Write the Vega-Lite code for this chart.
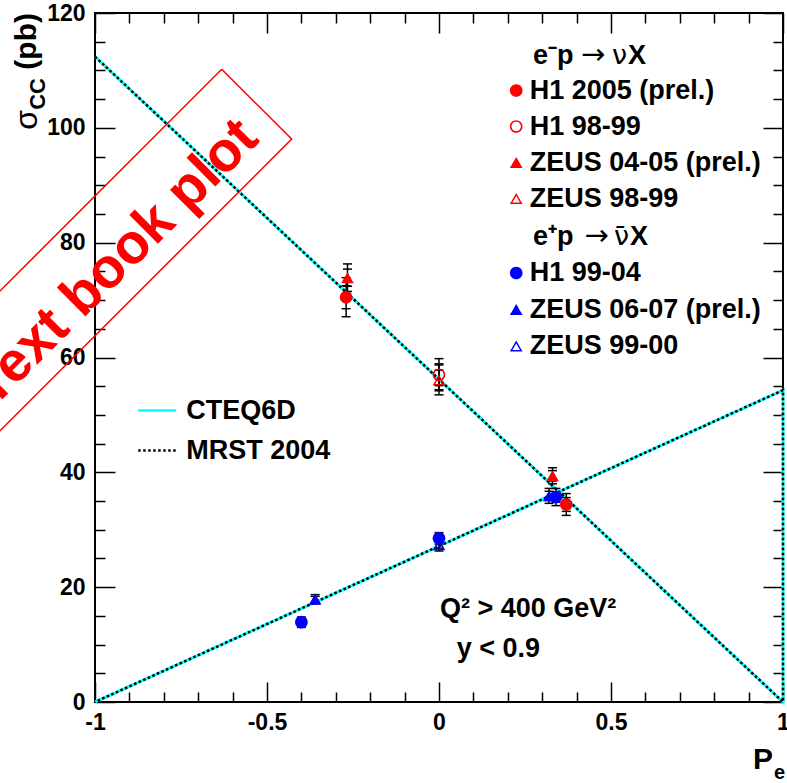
{
  "$schema": "https://vega.github.io/schema/vega-lite/v6.json",
  "autosize": "none",
  "width": 688,
  "height": 689,
  "padding": {"left": 95, "top": 13, "right": 4, "bottom": 81},
  "background": "white",
  "config": {
    "view": {"stroke": "#000", "strokeWidth": 2},
    "axis": {"labelFont": "Liberation Sans", "labelFontWeight": "bold", "labelFontSize": 23, "labelColor": "#000", "tickColor": "#000", "tickWidth": 1.5, "grid": false, "domain": false},
    "legend": {"labelFont": "Liberation Sans", "labelFontWeight": "bold", "labelFontSize": 27, "labelColor": "#000", "labelLimit": 600, "titleFont": "Liberation Sans", "titleFontWeight": "bold", "titleFontSize": 27, "titleColor": "#000", "titleLimit": 600, "padding": 0, "orient": "none", "direction": "vertical"},
    "text": {"font": "Liberation Sans", "fontWeight": "bold", "fontSize": 27, "color": "#000"}
  },
  "data": {"values": [
    {"dataset": "H1 2005 (prel.)", "process": "e-p", "P": -0.27, "sigma": 70.5, "stat_lo": 68.5, "stat_hi": 72.5, "tot_lo": 67.1, "tot_hi": 73.9},
    {"dataset": "H1 2005 (prel.)", "process": "e-p", "P": 0.37, "sigma": 34.4, "stat_lo": 33.2, "stat_hi": 35.6, "tot_lo": 32.5, "tot_hi": 36.3},
    {"dataset": "H1 98-99", "process": "e-p", "P": 0.0, "sigma": 57.0, "stat_lo": 55.1, "stat_hi": 58.9, "tot_lo": 54.2, "tot_hi": 59.8},
    {"dataset": "ZEUS 04-05 (prel.)", "process": "e-p", "P": -0.266, "sigma": 73.9, "stat_lo": 72.4, "stat_hi": 75.4, "tot_lo": 71.5, "tot_hi": 76.3},
    {"dataset": "ZEUS 04-05 (prel.)", "process": "e-p", "P": 0.33, "sigma": 39.4, "stat_lo": 38.5, "stat_hi": 40.3, "tot_lo": 38.0, "tot_hi": 40.8},
    {"dataset": "ZEUS 98-99", "process": "e-p", "P": 0.0, "sigma": 56.1, "stat_lo": 54.4, "stat_hi": 57.8, "tot_lo": 53.5, "tot_hi": 58.7},
    {"dataset": "H1 99-04", "process": "e+p", "P": -0.40, "sigma": 13.9, "stat_lo": 13.4, "stat_hi": 14.4, "tot_lo": 13.0, "tot_hi": 14.8},
    {"dataset": "H1 99-04", "process": "e+p", "P": 0.0, "sigma": 28.5, "stat_lo": 27.9, "stat_hi": 29.1, "tot_lo": 27.5, "tot_hi": 29.5},
    {"dataset": "H1 99-04", "process": "e+p", "P": 0.34, "sigma": 35.7, "stat_lo": 34.8, "stat_hi": 36.6, "tot_lo": 34.2, "tot_hi": 37.2},
    {"dataset": "ZEUS 06-07 (prel.)", "process": "e+p", "P": -0.36, "sigma": 17.9, "stat_lo": 17.4, "stat_hi": 18.4, "tot_lo": 17.1, "tot_hi": 18.7},
    {"dataset": "ZEUS 06-07 (prel.)", "process": "e+p", "P": 0.32, "sigma": 35.9, "stat_lo": 35.1, "stat_hi": 36.7, "tot_lo": 34.6, "tot_hi": 37.2},
    {"dataset": "ZEUS 99-00", "process": "e+p", "P": 0.0, "sigma": 27.4, "stat_lo": 26.8, "stat_hi": 28.0, "tot_lo": 26.3, "tot_hi": 28.5}
  ]},
  "resolve": {"axis": {"x": "independent", "y": "independent"}, "scale": {"shape": "independent"}, "legend": {"shape": "independent"}},
  "layer": [
    {
      "data": {"values": [{}]},
      "mark": {"type": "point", "opacity": 0},
      "encoding": {
        "x": {"datum": 0, "type": "quantitative", "scale": {"domain": [-1, 1], "nice": false, "zero": false},
              "axis": {"orient": "bottom", "values": [-1, -0.5, 0, 0.5, 1], "ticks": false, "labelPadding": 9, "labelBaseline": "top", "labelFlush": false, "labelOverlap": false, "labelExpr": "datum.value + ''", "title": null}},
        "y": {"datum": 0, "type": "quantitative", "scale": {"domain": [0, 120], "nice": false, "zero": false},
              "axis": {"orient": "left", "values": [0, 20, 40, 60, 80, 100, 120], "ticks": false, "labelPadding": 10, "labelFlush": false, "labelOverlap": false, "labelExpr": "datum.value + ''", "title": null}}
      }
    },
    {
      "data": {"values": [{}]},
      "mark": {"type": "point", "opacity": 0},
      "encoding": {
        "x": {"datum": 0, "type": "quantitative", "axis": {"orient": "bottom", "values": [-1, -0.5, 0, 0.5, 1], "labels": false, "tickSize": -20, "title": null}},
        "y": {"datum": 0, "type": "quantitative", "axis": {"orient": "left", "values": [0, 20, 40, 60, 80, 100, 120], "labels": false, "tickSize": -20, "title": null}}
      }
    },
    {
      "data": {"values": [{}]},
      "mark": {"type": "point", "opacity": 0},
      "encoding": {
        "x": {"datum": 0, "type": "quantitative", "axis": {"orient": "bottom", "values": [-0.9, -0.8, -0.7, -0.6, -0.4, -0.3, -0.2, -0.1, 0.1, 0.2, 0.3, 0.4, 0.6, 0.7, 0.8, 0.9], "labels": false, "tickSize": -10, "title": null}},
        "y": {"datum": 0, "type": "quantitative", "axis": {"orient": "left", "values": [5, 10, 15, 25, 30, 35, 45, 50, 55, 65, 70, 75, 85, 90, 95, 105, 110, 115], "labels": false, "tickSize": -10, "title": null}}
      }
    },
    {
      "data": {"values": [{}]},
      "mark": {"type": "point", "opacity": 0},
      "encoding": {
        "x": {"datum": 0, "type": "quantitative", "axis": {"orient": "top", "values": [-1, -0.5, 0, 0.5, 1], "labels": false, "tickSize": -20, "title": null}},
        "y": {"datum": 0, "type": "quantitative", "axis": {"orient": "right", "values": [0, 20, 40, 60, 80, 100, 120], "labels": false, "tickSize": -20, "title": null}}
      }
    },
    {
      "data": {"values": [{}]},
      "mark": {"type": "point", "opacity": 0},
      "encoding": {
        "x": {"datum": 0, "type": "quantitative", "axis": {"orient": "top", "values": [-0.9, -0.8, -0.7, -0.6, -0.4, -0.3, -0.2, -0.1, 0.1, 0.2, 0.3, 0.4, 0.6, 0.7, 0.8, 0.9], "labels": false, "tickSize": -10, "title": null}},
        "y": {"datum": 0, "type": "quantitative", "axis": {"orient": "right", "values": [5, 10, 15, 25, 30, 35, 45, 50, 55, 65, 70, 75, 85, 90, 95, 105, 110, 115], "labels": false, "tickSize": -10, "title": null}}
      }
    },
    {
      "data": {"values": [
        {"model": "CTEQ6D", "P": -1, "sigma": 112.4, "ord": 1},
        {"model": "CTEQ6D", "P": 1, "sigma": 0, "ord": 2},
        {"model": "CTEQ6D", "P": 1, "sigma": 54.3, "ord": 3},
        {"model": "CTEQ6D", "P": -1, "sigma": 0, "ord": 4},
        {"model": "MRST 2004", "P": -1, "sigma": 112.4, "ord": 1},
        {"model": "MRST 2004", "P": 1, "sigma": 0, "ord": 2},
        {"model": "MRST 2004", "P": 1, "sigma": 54.3, "ord": 3},
        {"model": "MRST 2004", "P": -1, "sigma": 0, "ord": 4}
      ]},
      "layer": [
        {
          "transform": [{"filter": "datum.model === 'CTEQ6D'"}],
          "mark": {"type": "line", "strokeWidth": 3},
          "encoding": {
            "x": {"field": "P", "type": "quantitative", "axis": null},
            "y": {"field": "sigma", "type": "quantitative", "axis": null},
            "order": {"field": "ord"},
            "color": {"field": "model", "type": "nominal", "scale": {"domain": ["CTEQ6D", "MRST 2004"], "range": ["#00ffff", "#000000"]},
                      "legend": {"title": null, "legendX": 41.7, "legendY": 377, "symbolType": "stroke", "symbolSize": 1444, "symbolStrokeWidth": 2.5, "labelOffset": 8.6, "rowPadding": 6}},
            "strokeDash": {"field": "model", "type": "nominal", "scale": {"domain": ["CTEQ6D", "MRST 2004"], "range": [[1, 0], [2.5, 2.5]]},
                      "legend": {"title": null, "legendX": 41.7, "legendY": 377, "symbolType": "stroke", "symbolSize": 1444, "symbolStrokeWidth": 2.5, "labelOffset": 8.6, "rowPadding": 6}}
          }
        },
        {
          "transform": [{"filter": "datum.model === 'MRST 2004'"}],
          "mark": {"type": "line", "strokeWidth": 2.5},
          "encoding": {
            "x": {"field": "P", "type": "quantitative", "axis": null},
            "y": {"field": "sigma", "type": "quantitative", "axis": null},
            "order": {"field": "ord"},
            "color": {"field": "model", "type": "nominal", "scale": {"domain": ["CTEQ6D", "MRST 2004"], "range": ["#00ffff", "#000000"]},
                      "legend": {"title": null, "legendX": 41.7, "legendY": 377, "symbolType": "stroke", "symbolSize": 1444, "symbolStrokeWidth": 2.5, "labelOffset": 8.6, "rowPadding": 6}},
            "strokeDash": {"field": "model", "type": "nominal", "scale": {"domain": ["CTEQ6D", "MRST 2004"], "range": [[1, 0], [2.5, 2.5]]},
                      "legend": {"title": null, "legendX": 41.7, "legendY": 377, "symbolType": "stroke", "symbolSize": 1444, "symbolStrokeWidth": 2.5, "labelOffset": 8.6, "rowPadding": 6}}
          }
        }
      ]
    },
    {
      "mark": {"type": "rule", "color": "#000", "strokeWidth": 1.5},
      "encoding": {
        "x": {"field": "P", "type": "quantitative", "axis": null},
        "y": {"field": "tot_lo", "type": "quantitative", "axis": null},
        "y2": {"field": "tot_hi"}
      }
    },
    {
      "transform": [{"fold": ["stat_lo", "stat_hi", "tot_lo", "tot_hi"], "as": ["k", "v"]}],
      "mark": {"type": "tick", "orient": "horizontal", "size": 9, "thickness": 1.5, "color": "#000", "opacity": 1},
      "encoding": {
        "x": {"field": "P", "type": "quantitative", "axis": null},
        "y": {"field": "v", "type": "quantitative", "axis": null}
      }
    },
    {
      "transform": [{"filter": "datum.process === 'e-p'"}],
      "mark": {"type": "point", "filled": true, "color": "#ff0000", "opacity": 1, "size": 160, "strokeWidth": 0},
      "encoding": {
        "x": {"field": "P", "type": "quantitative", "axis": null},
        "y": {"field": "sigma", "type": "quantitative", "axis": null},
        "shape": {"field": "dataset", "type": "nominal",
          "scale": {"domain": ["H1 2005 (prel.)", "H1 98-99", "ZEUS 04-05 (prel.)", "ZEUS 98-99"],
                    "range": ["M1,0A1,1,0,1,1,-1,0A1,1,0,1,1,1,0Z",
                              "M1,0A1,1,0,1,1,-1,0A1,1,0,1,1,1,0ZM0.74,0A0.74,0.74,0,1,0,-0.74,0A0.74,0.74,0,1,0,0.74,0Z",
                              "M0,-0.866L1,0.866L-1,0.866Z",
                              "M0,-0.866L1,0.866L-1,0.866ZM0,-0.404L-0.6,0.635L0.6,0.635Z"]},
          "legend": {"title": null, "legendX": 407.7, "legendY": 64, "symbolSize": 160, "symbolStrokeWidth": 0, "symbolOpacity": 1, "symbolFillColor": "#ff0000", "labelOffset": 0, "rowPadding": 8}}
      }
    },
    {
      "transform": [{"filter": "datum.process === 'e+p'"}],
      "mark": {"type": "point", "filled": true, "color": "#0000ff", "opacity": 1, "size": 160, "strokeWidth": 0},
      "encoding": {
        "x": {"field": "P", "type": "quantitative", "axis": null},
        "y": {"field": "sigma", "type": "quantitative", "axis": null},
        "shape": {"field": "dataset", "type": "nominal",
          "scale": {"domain": ["H1 99-04", "ZEUS 06-07 (prel.)", "ZEUS 99-00"],
                    "range": ["M1,0A1,1,0,1,1,-1,0A1,1,0,1,1,1,0Z",
                              "M0,-0.866L1,0.866L-1,0.866Z",
                              "M0,-0.866L1,0.866L-1,0.866ZM0,-0.404L-0.6,0.635L0.6,0.635Z"]},
          "legend": {"title": null, "legendX": 407.7, "legendY": 246.5, "symbolSize": 160, "symbolStrokeWidth": 0, "symbolOpacity": 1, "symbolFillColor": "#0000ff", "labelOffset": 0, "rowPadding": 8.5}}
      }
    },
    {
      "data": {"values": [{}]},
      "layer": [
        {"mark": {"type": "text", "text": "e\u207bp", "align": "left", "baseline": "alphabetic", "dx": 0}},
        {"mark": {"type": "text", "text": "\u2192", "align": "left", "baseline": "alphabetic", "font": "DejaVu Sans", "fontWeight": "normal", "fontSize": 29, "dx": 48}},
        {"mark": {"type": "text", "text": "\u03bd", "align": "left", "baseline": "alphabetic", "font": "DejaVu Sans", "fontWeight": "normal", "dx": 79}},
        {"mark": {"type": "text", "text": "X", "align": "left", "baseline": "alphabetic", "dx": 95}}
      ],
      "encoding": {
        "x": {"datum": 0.2733, "type": "quantitative", "axis": null},
        "y": {"datum": 111.06, "type": "quantitative", "axis": null}
      }
    },
    {
      "data": {"values": [{}]},
      "layer": [
        {"mark": {"type": "text", "text": "e\u207ap", "align": "left", "baseline": "alphabetic", "dx": 0}},
        {"mark": {"type": "text", "text": "\u2192", "align": "left", "baseline": "alphabetic", "font": "DejaVu Sans", "fontWeight": "normal", "fontSize": 29, "dx": 51.5}},
        {"mark": {"type": "text", "text": "\u03bd", "align": "left", "baseline": "alphabetic", "font": "DejaVu Sans", "fontWeight": "normal", "dx": 81}},
        {"mark": {"type": "text", "text": "\u00af", "align": "left", "baseline": "alphabetic", "font": "DejaVu Sans", "fontWeight": "normal", "dx": 80.5, "dy": 1}},
        {"mark": {"type": "text", "text": "X", "align": "left", "baseline": "alphabetic", "dx": 97}}
      ],
      "encoding": {
        "x": {"datum": 0.2733, "type": "quantitative", "axis": null},
        "y": {"datum": 79.59, "type": "quantitative", "axis": null}
      }
    },
    {
      "data": {"values": [
        {"P": -0.6317, "sigma": 110.2, "ord": 1},
        {"P": -0.4282, "sigma": 98.05, "ord": 2},
        {"P": -1.4846, "sigma": 34.74, "ord": 3},
        {"P": -1.6878, "sigma": 46.92, "ord": 4},
        {"P": -0.6317, "sigma": 110.2, "ord": 5}
      ]},
      "mark": {"type": "line", "color": "#ff0000", "strokeWidth": 1.5},
      "encoding": {
        "x": {"field": "P", "type": "quantitative", "axis": null},
        "y": {"field": "sigma", "type": "quantitative", "axis": null},
        "order": {"field": "ord"}
      }
    },
    {
      "data": {"values": [{}]},
      "mark": {"type": "text", "text": "Text book plot", "angle": 315, "align": "center", "baseline": "alphabetic", "fontSize": 56, "color": "#ff0000"},
      "encoding": {
        "x": {"datum": -0.907, "type": "quantitative", "axis": null},
        "y": {"datum": 74.43, "type": "quantitative", "axis": null}
      }
    },
    {
      "data": {"values": [{}]},
      "mark": {"type": "text", "text": "Q\u00b2 > 400 GeV\u00b2", "align": "left", "baseline": "alphabetic"},
      "encoding": {
        "x": {"datum": 0.003, "type": "quantitative", "axis": null},
        "y": {"datum": 14.86, "type": "quantitative", "axis": null}
      }
    },
    {
      "data": {"values": [{}]},
      "mark": {"type": "text", "text": "y < 0.9", "align": "left", "baseline": "alphabetic"},
      "encoding": {
        "x": {"datum": 0.0515, "type": "quantitative", "axis": null},
        "y": {"datum": 7.89, "type": "quantitative", "axis": null}
      }
    },
    {
      "data": {"values": [{}]},
      "mark": {"type": "text", "text": "(pb)", "angle": 270, "align": "right", "baseline": "alphabetic", "fontSize": 30, "dx": 0, "dy": -59},
      "encoding": {
        "x": {"datum": -1, "type": "quantitative", "axis": null},
        "y": {"datum": 120, "type": "quantitative", "axis": null}
      }
    },
    {
      "data": {"values": [{}]},
      "mark": {"type": "text", "text": "CC", "angle": 270, "align": "right", "baseline": "alphabetic", "fontSize": 22, "dx": -65, "dy": -50},
      "encoding": {
        "x": {"datum": -1, "type": "quantitative", "axis": null},
        "y": {"datum": 120, "type": "quantitative", "axis": null}
      }
    },
    {
      "data": {"values": [{}]},
      "mark": {"type": "text", "text": "\u03c3", "angle": 270, "align": "right", "baseline": "alphabetic", "fontSize": 32, "fontWeight": "normal", "dx": -97, "dy": -58},
      "encoding": {
        "x": {"datum": -1, "type": "quantitative", "axis": null},
        "y": {"datum": 120, "type": "quantitative", "axis": null}
      }
    },
    {
      "data": {"values": [{}]},
      "mark": {"type": "text", "text": "P", "align": "right", "baseline": "alphabetic", "fontSize": 30, "dx": -10, "dy": 67},
      "encoding": {
        "x": {"datum": 1, "type": "quantitative", "axis": null},
        "y": {"datum": 0, "type": "quantitative", "axis": null}
      }
    },
    {
      "data": {"values": [{}]},
      "mark": {"type": "text", "text": "e", "align": "right", "baseline": "alphabetic", "fontSize": 20, "dx": 2, "dy": 77},
      "encoding": {
        "x": {"datum": 1, "type": "quantitative", "axis": null},
        "y": {"datum": 0, "type": "quantitative", "axis": null}
      }
    }
  ]
}
